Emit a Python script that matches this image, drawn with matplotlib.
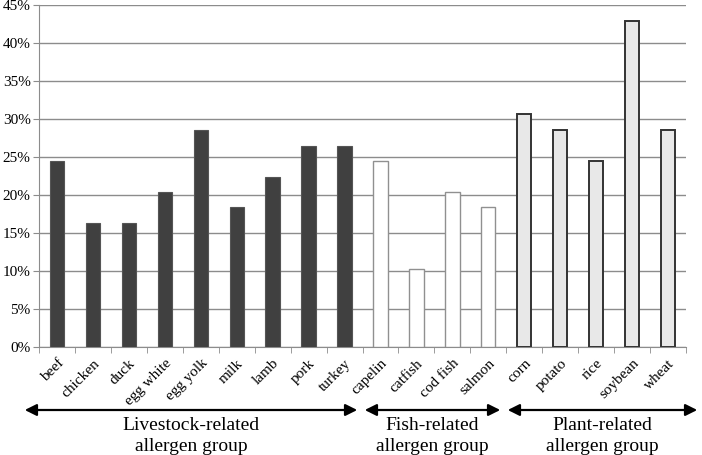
import matplotlib.pyplot as plt
import numpy as np

plt.rcParams['font.family'] = ['Liberation Serif', 'DejaVu Serif']

livestock = ['beef', 'chicken', 'duck', 'egg white', 'egg yolk', 'milk', 'lamb', 'pork', 'turkey']
livestock_vals = [24.5, 16.3, 16.3, 20.4, 28.6, 18.4, 22.4, 26.5, 26.5]
fish = ['capelin', 'catfish', 'cod fish', 'salmon']
fish_vals = [24.5, 10.2, 20.4, 18.4]
plant = ['corn', 'potato', 'rice', 'soybean', 'wheat']
plant_vals = [30.6, 28.6, 24.5, 42.9, 28.6]

group_names = ['Livestock-related\nallergen group', 'Fish-related\nallergen group',
               'Plant-related\nallergen group']

fig = plt.figure(figsize=(7.02, 4.55), dpi=100)
ax = fig.add_axes([39 / 702, 1 - 347 / 455, 647 / 702, 342 / 455])

labels = livestock + fish + plant
x = np.arange(len(labels))
x_l = x[:len(livestock)]
x_f = x[len(livestock):len(livestock) + len(fish)]
x_p = x[len(livestock) + len(fish):]

w = 0.4
ax.bar(x_l, livestock_vals, w, color='#404040', edgecolor='#555555', linewidth=0.8, zorder=3)
ax.bar(x_f, fish_vals, w, color='white', edgecolor='#909090', linewidth=1.0, zorder=3)
ax.bar(x_p, plant_vals, w, color='#e8e8e8', edgecolor='#333333', linewidth=1.4, zorder=3)

ax.set_xlim(-0.5, len(labels) - 0.5)
ax.set_ylim(0, 45)
ax.set_yticks(np.arange(0, 46, 5))
ax.set_yticklabels([f'{v}%' for v in range(0, 46, 5)], fontsize=11)
ax.yaxis.grid(True, color='#8c8c8c', linewidth=1.0, zorder=0)

ax.set_xticks(x)
ax.set_xticklabels(labels, rotation=45, ha='right', rotation_mode='anchor', fontsize=11)
ax.tick_params(axis='x', length=0, pad=7)
ax.set_xticks(np.arange(-0.5, len(labels), 1), minor=True)
ax.tick_params(axis='x', which='minor', length=4, color='#8c8c8c')
ax.tick_params(axis='y', length=4, color='#8c8c8c', pad=2)

for s in ['top', 'right']:
    ax.spines[s].set_visible(False)
ax.spines['left'].set_color('#8c8c8c')
ax.spines['bottom'].set_color('#8c8c8c')

# group arrows and labels below the axis
spans = [(22, 360), (362, 503), (505, 700)]
for (x0, x1), name in zip(spans, group_names):
    fig.patches.append(plt.matplotlib.patches.FancyArrowPatch(
        (x0 / 702, 1 - 410 / 455), (x1 / 702, 1 - 410 / 455),
        transform=fig.transFigure, arrowstyle='<|-|>,head_length=7,head_width=3.5',
        color='black', linewidth=1.6, mutation_scale=1))
    fig.text((x0 + x1) / 2 / 702, 1 - 436 / 455, name, ha='center', va='center',
             fontsize=14, linespacing=1.35)

fig.savefig('out.png', dpi=100)
